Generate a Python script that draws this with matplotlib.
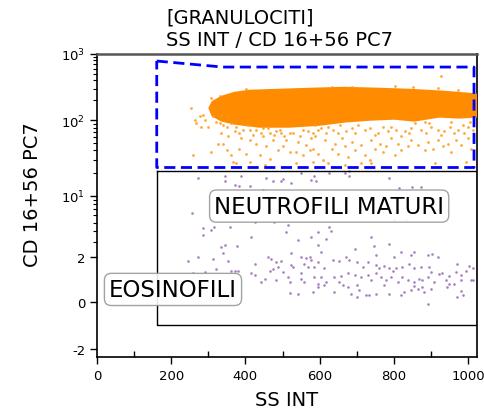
import numpy as np
import matplotlib
matplotlib.use("Agg")
import matplotlib.pyplot as plt

# -----------------------------
# dati
# -----------------------------

# nuvola densa dei neutrofili (contorno del nucleo denso)
core_x = [304, 312, 336, 371, 411, 492, 573, 667, 761, 841, 935, 1003, 1024,
          1024, 976, 922, 855, 801, 734, 667, 599, 519, 438, 371, 336, 312]
core_y = [152, 187, 223, 256, 275, 285, 295, 305, 295, 285, 266, 248, 239,
          115, 111, 115, 100, 107, 103, 97, 88, 83, 83, 91, 100, 119]

# eventi arancioni sparsi attorno al nucleo
orange_x = [254, 277, 268, 286, 281, 290, 299, 259, 308, 331, 335, 326, 340, 353, 362, 367,
            375, 349, 384, 402, 411, 389, 411, 429, 447, 456, 474, 487, 438, 465, 501, 510,
            519, 537, 541, 555, 564, 573, 582, 420, 496, 371, 452, 537, 340, 375, 411, 447,
            483, 519, 555, 582, 384, 465, 402, 264,
            587, 582, 596, 609, 614, 632, 641, 650, 659, 668, 677, 686, 694, 712, 721, 735,
            739, 748, 762, 771, 780, 793, 802, 811, 820, 838, 847, 865, 883, 892, 905, 910,
            918, 932, 945, 954, 968, 981, 995, 999, 1008, 712, 623, 668, 739, 847, 851, 596,
            623, 650, 686, 721, 757, 793, 829, 874, 901, 936, 972, 999, 927,
            313, 322, 349, 362, 393, 407, 429, 443, 461, 478, 492, 505, 528, 546, 568, 577,
            335, 349,
            587, 605, 618, 636, 654, 672, 694, 703, 735, 748, 771, 784, 806, 820, 842, 856,
            887, 896, 918, 927, 950, 963, 986, 990, 1013, 1004, 954, 883,
            686, 632, 802, 918, 972, 308, 331]
orange_y = [152, 114, 91, 120, 82, 101, 82, 34.5, 38, 91, 67, 49, 49, 61, 34.5, 28,
            26.7, 40, 42, 36, 28, 58, 55, 49, 61, 45, 55, 40, 34.5, 31, 45, 55,
            38, 38, 52, 34.5, 47, 40, 28, 64, 67, 71, 25.4, 26.7, 86, 82, 74, 78,
            71, 67, 74, 67, 67, 67, 295, 101,
            61, 42, 36, 29.6, 55, 42, 49, 36, 58, 45, 33, 52, 40, 47, 34.5, 29.6,
            55, 42, 49, 38, 45, 58, 34.5, 49, 40, 45, 55, 47, 40, 52, 42, 26.7,
            55, 45, 49, 38, 55, 47, 28, 58, 42, 26.7, 26.7, 25.4, 26.7, 78, 323, 74,
            82, 67, 78, 74, 67, 82, 71, 74, 82, 71, 74, 82, 464,
            114, 96, 82, 91, 74, 86, 74, 67, 78, 64, 74, 61, 67, 61, 71, 58,
            120, 107,
            86, 78, 67, 74, 86, 71, 67, 86, 78, 64, 82, 71, 74, 61, 67, 91,
            67, 91, 74, 64, 82, 67, 86, 67, 74, 96, 96, 96,
            323, 315, 330, 305, 285, 216, 229]

# eventi viola (eosinofili / altri)
purple_x = [272, 344, 344, 371, 384, 389, 411, 447, 456, 474, 496, 501, 523, 550, 577, 586,
            255, 286, 308, 315, 286, 358, 416, 425, 478, 510, 514, 541, 577, 595,
            335, 344, 340, 378, 313, 272, 246, 353, 425, 461, 470, 483, 496, 487, 474, 465,
            523, 550, 564, 573, 577, 559, 568, 595, 550, 523, 528, 501, 514, 519, 483, 452,
            443, 425, 416, 380, 371, 362, 322, 290, 259,
            550, 559, 586, 582, 541, 519, 595,
            590, 626, 667, 680, 680, 788, 814, 850, 873, 801, 832, 626, 631, 617, 595, 604,
            738, 747, 788, 694, 752, 801, 819, 846, 855, 891, 904, 918, 971, 1003, 1012,
            586, 613, 635, 653, 671, 680, 702, 716, 729, 752, 761, 774, 788, 797, 806, 823,
            841, 855, 873, 895, 900, 922, 931, 949, 967, 980, 994, 1012,
            604, 617, 640, 658, 676, 694, 711, 729, 738, 752, 765, 779, 792, 810, 823, 837,
            855, 868, 877, 891, 909, 940, 949, 962, 980, 1007,
            595, 613, 640, 662, 676, 702, 707, 725, 734, 752, 774, 788, 819, 828, 846, 855,
            864, 877, 882, 900, 944, 980, 985, 971, 891, 685, 702, 653]
purple_y = [17.1, 18.0, 15.4, 13.9, 13.5, 18.0, 13.5, 11.9, 17.1, 15.4, 15.4, 16.5, 14.6, 19.9, 16.2, 18.0,
            6.35, 4.30, 4.13, 4.4, 3.62, 4.50, 3.46, 5.13, 5.13, 3.94, 4.70, 3.17, 3.46, 3.94,
            2.64, 2.77, 2.24, 2.69, 1.82, 2.0, 1.73, 1.73, 1.52, 2.0, 1.82, 1.66, 1.73, 1.38, 1.24, 1.17,
            2.24, 2.0, 1.88, 2.0, 1.78, 1.56, 1.38, 1.66, 1.04, 1.47, 1.38, 1.12, 0.89, 0.69, 0.75, 0.82,
            0.69, 0.96, 1.04, 1.15, 1.15, 1.15, 1.24, 1.12, 1.04,
            0.82, 0.69, 0.89, 0.33, 0.27, 0.30, 0.62,
            15.4, 19.9, 19.9, 20.9, 18.0, 17.1, 12.5, 12.9, 12.9, 5.35, 5.35, 4.50, 4.06, 3.22, 2.77, 2.30,
            3.4, 2.72, 2.84, 2.45, 2.10, 2.0, 2.30, 2.10, 2.30, 2.10, 2.15, 1.95, 1.56, 1.42, 1.29,
            1.38, 1.29, 1.78, 1.71, 2.0, 1.78, 1.66, 1.38, 1.66, 1.47, 1.29, 1.42, 1.29, 1.17, 1.29, 1.38,
            1.56, 1.29, 1.38, 1.38, 1.12, 1.0, 1.04, 0.92, 1.12, 0.96, 1.17, 0.78,
            0.89, 0.69, 0.89, 0.92, 1.04, 0.96, 0.89, 0.96, 0.75, 1.04, 0.89, 0.75, 0.89, 0.69, 0.89, 0.75,
            0.69, 0.82, 0.75, 0.89, 0.69, 0.75, 0.60, 0.62, 0.75, 0.75,
            0.50, 0.56, 0.33, 0.56, 0.50, 0.56, 0.38, 0.22, 0.22, 0.27, 0.56, 0.27, 0.22, 0.33, 0.38, 0.52,
            0.44, 0.50, 0.33, 0.44, 0.50, 0.36, 0.22, 0.16, -0.05, 0.27, 0.16, 0.69]

# gate
gate_blu_x = [161, 339, 1016, 1016, 161, 161]
gate_blu_y = [783, 635, 635, 23.6, 23.6, 783]
gate_nero_x = [161, 1024, 1024, 161, 161]
gate_nero_y = [21.5, 21.5, -0.77, -0.77, 21.5]

y_ticks = [-2, 0, 2, 10, 100, 1000]
y_tick_labels = ["-2", "0", "2", "$10^1$", "$10^2$", "$10^3$"]
x_ticks = [0, 200, 400, 600, 800, 1000]

# -----------------------------
# scala tipo logicle per l'asse y
# -----------------------------
knot_pos = [-0.627, 0.0, 0.6, 1.413, 2.413, 3.293]
S = np.arcsinh(np.array(y_ticks, float))
P = np.array(knot_pos)
sl_lo = (P[1] - P[0]) / (S[1] - S[0])
sl_hi = (P[-1] - P[-2]) / (S[-1] - S[-2])
S = np.concatenate([[S[0] - 50], S, [S[-1] + 50]])
P = np.concatenate([[P[0] - 50 * sl_lo], P, [P[-1] + 50 * sl_hi]])


def fwd(v):
    return np.interp(np.arcsinh(np.asarray(v, float)), S, P)


def inv(p):
    return np.sinh(np.interp(np.asarray(p, float), P, S))


# -----------------------------
# grafico
# -----------------------------
fig = plt.figure(figsize=(4.84, 4.10), dpi=100)
ax = fig.add_axes([0.2004, 0.1268, 0.7851, 0.7391])
ax.set_yscale("function", functions=(fwd, inv))
ax.set_xlim(0, 1024)
ax.set_ylim(-2.6, 1000)

ax.scatter(purple_x, purple_y, s=3.5, color="#9060b0", alpha=0.8, linewidths=0, zorder=2)
ax.fill(core_x, core_y, color="#ff8c00", lw=2.0, zorder=3)
ax.scatter(orange_x, orange_y, s=4, color="#ff9a1a", alpha=0.85, linewidths=0, zorder=3)

ax.plot(gate_nero_x, gate_nero_y, color="black", lw=1.0, zorder=4)
ax.plot(gate_blu_x, gate_blu_y, color="#0000ff", lw=2.0, dashes=(4, 2), zorder=4)

box = dict(boxstyle="round,pad=0.2,rounding_size=0.3", fc="white", ec="#999999", lw=1.0, alpha=0.9)
ax.text(0.611, 0.498, "NEUTROFILI MATURI", transform=ax.transAxes, ha="center", va="center",
        fontsize=16.5, bbox=box, zorder=6)
ax.text(0.2, 0.223, "EOSINOFILI", transform=ax.transAxes, ha="center", va="center",
        fontsize=16.5, bbox=box, zorder=6)

ax.set_yticks(y_ticks)
ax.set_yticklabels(y_tick_labels)
minor_y = [3, 4, 5, 6, 7, 8, 9] + [20, 30, 40, 50, 60, 70, 80, 90] + [200, 300, 400, 500, 600, 700, 800, 900]
ax.set_yticks(minor_y, minor=True)
ax.set_xticks(x_ticks)
ax.set_xticks([100, 300, 500, 700, 900], minor=True)

ax.tick_params(axis="both", which="major", direction="out", length=5, width=1, labelsize=9.5, colors="black")
ax.tick_params(axis="y", which="minor", direction="out", length=3, width=0.8)
ax.tick_params(axis="x", which="minor", direction="in", length=4, width=1)

for s in ["left", "right", "bottom"]:
    ax.spines[s].set_linewidth(1.2)
ax.spines["top"].set_color("#555555")
ax.spines["top"].set_linewidth(1.8)

ax.set_xlabel("SS INT", fontsize=14, labelpad=6)
ax.set_ylabel("CD 16+56 PC7", fontsize=14)
ax.yaxis.set_label_coords(-0.145, 0.54)

fig.text(0.343, 0.955, "[GRANULOCITI]", fontsize=14, ha="left", va="center")
fig.text(0.343, 0.9, "SS INT / CD 16+56 PC7", fontsize=14, ha="left", va="center")

fig.savefig("out.png", dpi=100)
